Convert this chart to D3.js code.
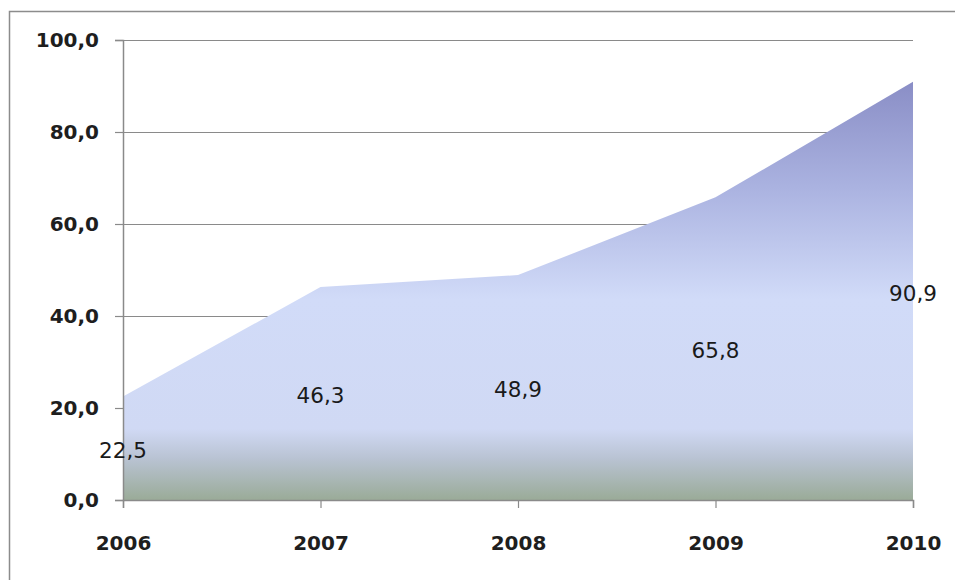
<!DOCTYPE html>
<html lang="en">
<head>
<meta charset="UTF-8">
<title>Area chart 2006-2010</title>
<script src="https://cdn.jsdelivr.net/npm/d3@7"></script>
<style>
    body { margin: 0; background: #fff; }
    text { font-family: "DejaVu Sans", Verdana, sans-serif; fill: #1a1a1a; }
    .tick text { font-size: 20px; font-weight: bold; fill: #1e1e1e; }
    .label { font-size: 21.5px; fill: #1a1a1a; }
</style>
</head>
<body>
<svg width="955" height="580"></svg>
<script>
    const years  = ["2006", "2007", "2008", "2009", "2010"];
    const values = [22.5, 46.3, 48.9, 65.8, 90.9];
    const labels = ["22,5", "46,3", "48,9", "65,8", "90,9"];
    const yTicks = [0, 20, 40, 60, 80, 100];

    const svg = d3.select("svg");

    // outer frame (right and bottom edges fall outside the picture)
    svg.append("rect")
       .attr("x", 9.5).attr("y", 11.5)
       .attr("width", 960).attr("height", 600)
       .attr("fill", "none").attr("stroke", "#8c8c8c").attr("stroke-width", 1.5);

    const plot = { left: 123, right: 913, top: 40, bottom: 500 };

    const x = d3.scalePoint().domain(years).range([plot.left, plot.right]);
    const y = d3.scaleLinear().domain([0, 100]).range([plot.bottom, plot.top]);

    const fmt = d => d3.format(".1f")(d).replace(".", ",");

    // gridlines
    svg.append("g")
       .selectAll("line")
       .data(yTicks.filter(d => d > 0))
       .join("line")
         .attr("x1", plot.left).attr("x2", plot.right)
         .attr("y1", d => y(d) + 0.5).attr("y2", d => y(d) + 0.5)
         .attr("stroke", "#8a8a8a").attr("stroke-width", 1.2);

    // gradient fill for the area
    const grad = svg.append("defs").append("linearGradient")
        .attr("id", "areaFill")
        .attr("gradientUnits", "userSpaceOnUse")
        .attr("x1", 0).attr("x2", 0)
        .attr("y1", y(d3.max(values))).attr("y2", plot.bottom);
    [[0, "#8a8ec6"], [0.25, "#aab2e0"], [0.52, "#d1dbf8"], [0.83, "#d0d9f4"],
     [0.9, "#b9c3d3"], [1, "#9aab98"]].forEach(([o, c]) =>
        grad.append("stop").attr("offset", o).attr("stop-color", c));

    const rows = years.map((k, i) => ({ year: k, value: values[i], label: labels[i] }));

    const area = d3.area()
        .x(d => x(d.year))
        .y0(plot.bottom)
        .y1(d => y(d.value));

    svg.append("path")
       .datum(rows)
       .attr("d", area)
       .attr("fill", "url(#areaFill)");

    // axes
    const yAxis = svg.append("g")
        .attr("transform", `translate(${plot.left},0)`)
        .call(d3.axisLeft(y).tickValues(yTicks).tickFormat(fmt).tickSize(8).tickPadding(16));
    const xAxis = svg.append("g")
        .attr("transform", `translate(0,${plot.bottom})`)
        .call(d3.axisBottom(x).tickSize(8).tickPadding(28));

    [yAxis, xAxis].forEach(g => {
        g.select(".domain").attr("stroke", "#8a8a8a").attr("stroke-width", 1.5);
        g.selectAll(".tick line").attr("stroke", "#8a8a8a").attr("stroke-width", 1.2);
    });

    // data labels at half height of each point
    svg.append("g")
       .selectAll("text")
       .data(rows)
       .join("text")
         .attr("class", "label")
         .attr("x", d => x(d.year))
         .attr("y", d => y(d.value / 2) + 2)
         .attr("dy", "0.36em")
         .attr("text-anchor", "middle")
         .text(d => d.label);
</script>
</body>
</html>
